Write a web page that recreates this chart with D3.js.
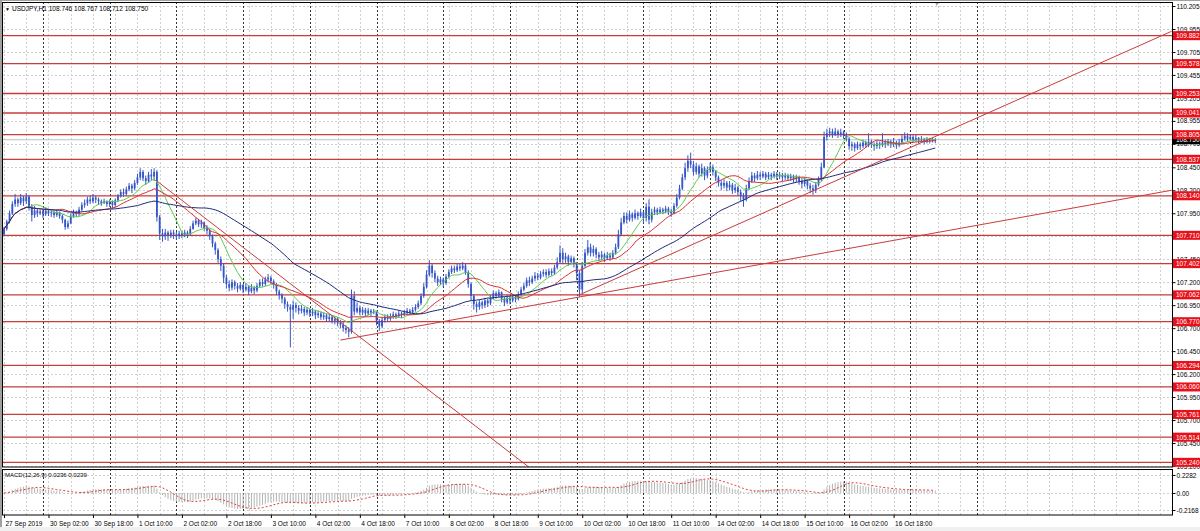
<!DOCTYPE html>
<html><head><meta charset="utf-8">
<script src="https://cdn.jsdelivr.net/npm/d3@7"></script>
<style>
html,body{margin:0;padding:0;background:#fff;overflow:hidden;}
svg{display:block;}
text{font-family:"Liberation Sans",Arial,sans-serif;}
</style></head><body>
<svg id="c" width="1200" height="531"></svg>
<script>
// ---------------- DATA ----------------
const symbol = "USDJPY,H1";
const headerOHLC = "108.746 108.767 108.712 108.750";
const firstOpen = 107.72;
const closes = [
107.78,107.86,107.95,108.05,108.10,108.06,108.12,108.08,108.13,108.02,107.93,107.98,107.95,107.97,
107.94,107.98,107.95,107.96,107.93,107.96,107.92,107.88,107.80,107.84,107.92,107.96,107.94,107.99,108.04,108.06,108.10,108.08,108.12,108.10,108.08,108.06,108.08,108.05,
108.07,108.04,108.09,108.14,108.18,108.16,108.21,108.25,108.22,108.28,108.34,108.40,108.33,108.30,108.37,108.35,108.40,107.91,107.73,107.70,107.74,107.71,107.74,107.72,
107.70,107.73,107.71,107.74,107.72,107.78,107.84,107.87,107.83,107.85,107.79,107.76,107.70,107.62,107.55,107.45,107.38,107.25,107.18,107.14,107.20,107.16,107.13,107.17,
107.12,107.15,107.10,107.14,107.11,107.16,107.20,107.18,107.23,107.25,107.21,107.17,107.10,107.06,107.02,106.96,106.93,106.90,106.95,106.92,106.89,106.91,106.87,106.90,
106.86,106.88,106.84,106.86,106.82,106.84,106.80,106.82,106.78,106.80,106.76,106.74,106.70,106.68,106.66,107.05,106.88,106.92,106.87,106.90,106.86,106.89,106.87,106.88,
106.78,106.72,106.79,106.82,106.80,106.83,106.85,106.83,106.86,106.84,106.87,106.89,106.87,106.90,106.93,106.97,107.05,107.15,107.28,107.38,107.30,107.24,107.20,107.23,
107.19,107.26,107.31,107.35,107.33,107.37,107.35,107.38,107.31,107.18,107.05,106.96,106.93,106.98,106.95,107.00,106.97,107.03,107.08,107.05,107.09,107.02,106.98,107.03,
107.00,107.04,107.02,107.07,107.12,107.16,107.22,107.20,107.24,107.27,107.25,107.29,107.31,107.28,107.32,107.30,107.36,107.42,107.52,107.45,107.48,107.42,107.46,107.40,
107.30,107.12,107.38,107.52,107.58,107.52,107.56,107.50,107.47,107.50,107.46,107.49,107.47,107.52,107.58,107.72,107.85,107.92,107.88,107.94,107.90,107.95,107.92,107.96,
107.90,108.02,107.88,107.96,107.99,107.96,107.99,107.97,108.00,107.97,107.95,108.03,108.12,108.22,108.34,108.44,108.52,108.48,108.40,108.46,108.38,108.44,108.36,108.42,
108.45,108.40,108.34,108.28,108.25,108.28,108.23,108.26,108.20,108.23,108.18,108.14,108.10,108.22,108.30,108.36,108.33,108.37,108.35,108.38,108.34,108.37,108.35,108.38,
108.35,108.37,108.34,108.36,108.33,108.35,108.32,108.34,108.30,108.27,108.30,108.25,108.22,108.20,108.26,108.32,108.45,108.78,108.82,108.84,108.80,108.84,108.81,108.83,
108.80,108.76,108.68,108.70,108.66,108.70,108.68,108.72,108.69,108.73,108.70,108.68,108.71,108.69,108.72,108.70,108.73,108.70,108.72,108.69,108.72,108.76,108.79,108.76,
108.78,108.75,108.77,108.74,108.76,108.73,108.75,108.74,108.746,108.750];
const highs = [
107.80,107.88,107.98,108.08,108.16,108.12,108.16,108.14,108.17,108.15,108.05,108.03,108.00,107.99,
107.99,108.01,108.00,107.99,107.98,107.99,107.97,107.94,107.89,107.87,107.95,107.99,107.98,108.02,108.07,108.10,108.13,108.14,108.16,108.14,108.12,108.10,108.11,108.09,
108.10,108.09,108.11,108.16,108.21,108.22,108.24,108.28,108.27,108.31,108.38,108.44,108.42,108.36,108.40,108.43,108.44,108.42,107.93,107.78,107.78,107.76,107.77,107.77,
107.75,107.76,107.76,107.77,107.76,107.81,107.87,107.90,107.89,107.88,107.86,107.82,107.78,107.72,107.64,107.57,107.48,107.40,107.28,107.22,107.23,107.22,107.19,107.20,
107.18,107.19,107.17,107.18,107.16,107.19,107.23,107.24,107.26,107.29,107.27,107.23,107.19,107.12,107.08,107.04,106.99,106.96,107.00,106.98,106.95,106.95,106.93,106.93,
106.91,106.92,106.90,106.89,106.88,106.87,106.86,106.85,106.84,106.83,106.82,106.79,106.77,106.73,106.71,107.12,107.10,106.98,106.94,106.93,106.92,106.92,106.91,106.91,
106.88,106.80,106.82,106.85,106.85,106.86,106.88,106.87,106.89,106.88,106.90,106.92,106.91,106.93,106.96,107.00,107.08,107.19,107.33,107.44,107.40,107.33,107.27,107.26,
107.25,107.29,107.34,107.38,107.38,107.40,107.40,107.42,107.40,107.33,107.20,107.07,106.99,107.01,107.00,107.03,107.02,107.06,107.11,107.10,107.12,107.10,107.04,107.06,
107.05,107.07,107.06,107.10,107.15,107.19,107.25,107.26,107.27,107.31,107.30,107.32,107.34,107.34,107.35,107.35,107.39,107.47,107.60,107.57,107.52,107.50,107.49,107.48,
107.42,107.33,107.42,107.56,107.66,107.62,107.60,107.58,107.53,107.54,107.52,107.53,107.52,107.55,107.62,107.77,107.90,107.96,107.96,107.98,107.96,107.99,107.97,108.00,
107.97,108.06,108.10,108.00,108.02,108.01,108.02,108.01,108.03,108.02,108.00,108.06,108.16,108.26,108.38,108.50,108.58,108.61,108.52,108.50,108.48,108.49,108.46,108.46,
108.50,108.48,108.42,108.36,108.31,108.32,108.30,108.30,108.28,108.27,108.25,108.21,108.17,108.26,108.34,108.40,108.39,108.41,108.40,108.41,108.40,108.40,108.39,108.41,
108.40,108.40,108.39,108.39,108.38,108.38,108.37,108.37,108.36,108.33,108.34,108.32,108.28,108.26,108.29,108.35,108.50,108.84,108.87,108.88,108.87,108.88,108.86,108.87,
108.85,108.83,108.78,108.73,108.72,108.73,108.72,108.75,108.74,108.82,108.75,108.72,108.74,108.73,108.82,108.75,108.76,108.75,108.77,108.74,108.76,108.80,108.83,108.82,
108.81,108.80,108.80,108.78,108.79,108.77,108.78,108.77,108.77,108.767];
const lows = [
107.70,107.76,107.84,107.93,108.02,108.02,108.04,108.03,108.05,107.98,107.86,107.90,107.91,107.93,
107.90,107.92,107.92,107.91,107.90,107.91,107.89,107.84,107.77,107.78,107.83,107.90,107.91,107.92,107.97,108.01,108.03,108.05,108.06,108.06,108.04,108.03,108.05,108.02,
108.02,108.00,108.02,108.07,108.12,108.13,108.14,108.19,108.17,108.20,108.26,108.31,108.30,108.26,108.28,108.31,108.30,107.86,107.66,107.64,107.66,107.65,107.68,107.67,
107.66,107.67,107.68,107.69,107.68,107.71,107.77,107.82,107.80,107.79,107.76,107.72,107.66,107.58,107.50,107.41,107.32,107.19,107.13,107.10,107.11,107.12,107.09,107.11,
107.08,107.10,107.06,107.08,107.07,107.09,107.14,107.15,107.16,107.20,107.18,107.13,107.06,107.01,106.97,106.91,106.88,106.49,106.80,106.87,106.85,106.86,106.83,106.84,
106.82,106.83,106.80,106.81,106.79,106.79,106.77,106.77,106.75,106.74,106.72,106.70,106.66,106.64,106.60,106.64,106.84,106.86,106.84,106.84,106.83,106.84,106.83,106.85,
106.73,106.67,106.70,106.76,106.77,106.78,106.80,106.80,106.81,106.81,106.83,106.84,106.84,106.85,106.88,106.91,106.95,107.03,107.13,107.26,107.25,107.20,107.16,107.17,
107.15,107.17,107.24,107.29,107.30,107.31,107.32,107.33,107.28,107.14,107.00,106.90,106.87,106.90,106.91,106.92,106.93,106.95,107.01,107.02,107.03,106.98,106.94,106.96,
106.96,106.98,106.98,107.00,107.05,107.10,107.14,107.16,107.18,107.21,107.22,107.23,107.26,107.25,107.26,107.27,107.28,107.34,107.40,107.40,107.41,107.38,107.39,107.36,
107.22,107.04,107.08,107.36,107.49,107.48,107.48,107.46,107.43,107.44,107.42,107.44,107.43,107.45,107.50,107.56,107.70,107.83,107.84,107.86,107.86,107.88,107.88,107.90,
107.84,107.86,107.83,107.85,107.93,107.93,107.94,107.94,107.95,107.93,107.91,107.94,108.01,108.10,108.20,108.31,108.40,108.44,108.36,108.37,108.34,108.35,108.31,108.33,
108.39,108.36,108.30,108.24,108.20,108.22,108.19,108.20,108.16,108.17,108.14,108.08,108.02,108.08,108.20,108.28,108.29,108.31,108.31,108.33,108.31,108.32,108.31,108.33,
108.31,108.32,108.30,108.31,108.30,108.30,108.28,108.29,108.26,108.22,108.24,108.21,108.17,108.15,108.17,108.24,108.30,108.44,108.74,108.78,108.77,108.79,108.77,108.78,
108.76,108.73,108.64,108.63,108.62,108.64,108.64,108.66,108.66,108.67,108.66,108.63,108.65,108.65,108.67,108.66,108.68,108.66,108.67,108.65,108.67,108.70,108.74,108.73,
108.74,108.72,108.73,108.71,108.72,108.70,108.71,108.71,108.72,108.712];

const timeLabels = ["27 Sep 2019","30 Sep 02:00","30 Sep 18:00","1 Oct 10:00","2 Oct 02:00","2 Oct 18:00","3 Oct 10:00","4 Oct 02:00","4 Oct 18:00","7 Oct 10:00","8 Oct 02:00","8 Oct 18:00","9 Oct 10:00","10 Oct 02:00","10 Oct 18:00","11 Oct 10:00","14 Oct 02:00","14 Oct 18:00","15 Oct 10:00","16 Oct 02:00","16 Oct 18:00"];
const timeLabelBars = [0,16,32,48,64,80,96,112,128,144,160,176,192,208,224,240,256,272,288,304,320];
const daySeparatorBars = [14,38,62,86,110,134,158,182,206,230,254,278,302,326,350];
const priceTicks = ["110.205","109.955","109.705","109.455","109.205","108.955","108.705","108.450","108.200","107.950","107.700","107.450","107.200","106.950","106.700","106.450","106.200","105.950","105.700","105.450","105.200"];
const levels = [109.882,109.578,109.253,109.041,108.805,108.537,108.140,107.710,107.402,107.062,106.770,106.294,106.060,105.761,105.514,105.240];
const lastPrice = 108.750;
// trend lines: [startBar, startPrice, endBar, endPrice]
const trendDown = [55, 108.30, 190, 105.16];
const trendUpLow = [121, 106.57, 420, 108.20];
const trendUpHigh = [206.8, 107.06, 420, 109.93];
const macdTicks = [0.2282, 0.00, -0.2168];
const macdTitle = "MACD(12,26,9) 0.0236 0.0239";
const maPeriods = [10, 20, 50];

// ---------------- LAYOUT ----------------
const svg = d3.select("#c");
const L = 3, R = 1172, T = 2, MB = 467, MT = 469, BB = 515;
const FS = "6.5px";
const x = d3.scaleLinear().domain([0, 420]).range([4, 1171.6]);
const y = d3.scaleLinear().domain([105.2, 110.205]).range([466, 6]);
const ym = d3.scaleLinear().domain([-0.2168, 0.2282]).range([510, 475]);

svg.append("rect").attr("width",1200).attr("height",531).attr("fill","#fff");
svg.append("rect").attr("x",0).attr("y",527).attr("width",1200).attr("height",4).attr("fill","#f0f0f0");
svg.append("rect").attr("x",0).attr("y",0).attr("width",2).attr("height",527).attr("fill","#a0a0a0");
svg.append("rect").attr("x",0).attr("y",0).attr("width",1200).attr("height",1).attr("fill","#a0a0a0");

const defs = svg.append("defs");
defs.append("clipPath").attr("id","cm").append("rect").attr("x",L).attr("y",T).attr("width",R-L).attr("height",MB-T);
defs.append("clipPath").attr("id","cd").append("rect").attr("x",L).attr("y",MT).attr("width",R-L).attr("height",BB-MT);

const gMain = svg.append("g").attr("clip-path","url(#cm)");
const gMacd = svg.append("g").attr("clip-path","url(#cd)");

// vertical grid (every 8 bars)
const gridBars = d3.range(0, 421, 8);
[[gMain,T,MB],[gMacd,MT,BB]].forEach(([g,a,b])=>{
  g.selectAll(null).data(gridBars).enter().append("line")
   .attr("x1",d=>Math.round(x(d))+0.5).attr("x2",d=>Math.round(x(d))+0.5).attr("y1",a).attr("y2",b)
   .attr("stroke","#d0d0d0").attr("stroke-dasharray","2,2").attr("stroke-width",1);
});
// horizontal grid
gMain.selectAll(null).data(priceTicks).enter().append("line")
  .attr("x1",L).attr("x2",R).attr("y1",d=>Math.round(y(+d))+0.5).attr("y2",d=>Math.round(y(+d))+0.5)
  .attr("stroke","#d0d0d0").attr("stroke-dasharray","2,2");
gMacd.selectAll(null).data(macdTicks).enter().append("line")
  .attr("x1",L).attr("x2",R).attr("y1",d=>Math.round(ym(d))+0.5).attr("y2",d=>Math.round(ym(d))+0.5)
  .attr("stroke","#d0d0d0").attr("stroke-dasharray","2,2");
// day separators
[[gMain,T,MB],[gMacd,MT,BB]].forEach(([g,a,b])=>{
  g.selectAll(null).data(daySeparatorBars).enter().append("line")
   .attr("x1",d=>Math.round(x(d))+0.5).attr("x2",d=>Math.round(x(d))+0.5).attr("y1",a).attr("y2",b)
   .attr("stroke","#333").attr("stroke-dasharray","2,2").attr("stroke-width",1);
});

// horizontal levels
gMain.selectAll(null).data(levels).enter().append("line")
  .attr("x1",L).attr("x2",R).attr("y1",d=>y(d)).attr("y2",d=>y(d))
  .attr("stroke","#c83c3c").attr("stroke-width",1.3);
// last price line
gMain.append("line").attr("x1",L).attr("x2",R).attr("y1",y(lastPrice)).attr("y2",y(lastPrice))
  .attr("stroke","#c0c0c0").attr("stroke-width",1);

// candles
const bars = closes.map((c,i)=>{
  const o = i===0 ? firstOpen : closes[i-1];
  return {i, o, c, h: Math.max(highs[i], o, c), l: Math.min(lows[i], o, c)};
});
const blue = "#3556c8";
gMain.selectAll(null).data(bars).enter().append("line")
  .attr("x1",d=>x(d.i)).attr("x2",d=>x(d.i)).attr("y1",d=>y(d.h)).attr("y2",d=>y(d.l))
  .attr("stroke",blue).attr("stroke-width",1);
gMain.selectAll(null).data(bars).enter().append("rect")
  .attr("x",d=>x(d.i)-0.9).attr("width",1.8)
  .attr("y",d=>y(Math.max(d.o,d.c))).attr("height",d=>Math.max(0.8, Math.abs(y(d.o)-y(d.c))))
  .attr("fill",blue);

// moving averages
function sma(arr, p){ return arr.map((_,i)=>{ const s=Math.max(0,i-p+1); return d3.mean(arr.slice(s,i+1)); }); }
function ema(arr, p){ const k=2/(p+1); let e=arr[0]; return arr.map(v=>(e = v*k + e*(1-k))); }
const maColors = ["#5ccc4c","#d83030","#1c2a7a"];
maPeriods.forEach((p,k)=>{
  const m = sma(closes,p);
  gMain.append("path").datum(m).attr("fill","none").attr("stroke",maColors[k]).attr("stroke-width",1)
    .attr("d", d3.line().x((d,i)=>x(i)).y(d=>y(d)));
});

// trend lines
[trendDown, trendUpLow, trendUpHigh].forEach(t=>{
  gMain.append("line").attr("x1",x(t[0])).attr("y1",y(t[1])).attr("x2",x(t[2])).attr("y2",y(t[3]))
    .attr("stroke","#c83c3c").attr("stroke-width",1);
});

// MACD
const e12 = ema(closes,12), e26 = ema(closes,26);
const macd = e12.map((v,i)=>v-e26[i]);
const signal = sma(macd,9);
gMacd.selectAll(null).data(macd).enter().append("line")
  .attr("x1",(d,i)=>x(i)).attr("x2",(d,i)=>x(i)).attr("y1",ym(0)).attr("y2",d=>ym(d))
  .attr("stroke","#b4b4b4").attr("stroke-width",1);
gMacd.append("path").datum(signal).attr("fill","none").attr("stroke","#e03c3c").attr("stroke-width",1)
  .attr("stroke-dasharray","2,2").attr("d", d3.line().x((d,i)=>x(i)).y(d=>ym(d)));

// frames
svg.append("rect").attr("x",L-0.5).attr("y",T+0.5).attr("width",R-L+1).attr("height",MB-T-0.5)
  .attr("fill","none").attr("stroke","#000");
svg.append("rect").attr("x",L-0.5).attr("y",MT+0.5).attr("width",R-L+1).attr("height",BB-MT-0.5)
  .attr("fill","none").attr("stroke","#000");

// shift marker
svg.append("path").attr("d",`M${x(335)},3 l3,0 l-1.5,3 z`).attr("fill","#a0a0a0");

// right price axis
const ax = d3.axisRight(y).tickValues(priceTicks.map(Number)).tickFormat((d,i)=>priceTicks[i]).tickSize(3).tickSizeOuter(0);
const gAx = svg.append("g").attr("transform",`translate(${R+0.5},0)`).call(ax);
gAx.select(".domain").remove();
gAx.selectAll("text").attr("x",4).attr("font-size",FS).attr("fill","#000").attr("font-family","Liberation Sans, Arial, sans-serif");
gAx.selectAll("line").attr("stroke","#000");

// current price box
svg.append("rect").attr("x",R+1).attr("y",y(lastPrice)-4.5).attr("width",27).attr("height",9).attr("fill","#000");
svg.append("text").attr("x",R+4).attr("y",y(lastPrice)+2.4).attr("font-size",FS).attr("fill","#fff").text(lastPrice.toFixed(3));
// level boxes
const lb = svg.append("g").selectAll(null).data(levels).enter().append("g");
lb.append("rect").attr("x",R+1).attr("y",d=>y(d)-4.5).attr("width",27).attr("height",9).attr("fill","#e8101a");
lb.append("text").attr("x",R+4).attr("y",d=>y(d)+2.4).attr("font-size",FS).attr("fill","#fff").text(d=>d.toFixed(3));

// MACD axis
const axm = d3.axisRight(ym).tickValues(macdTicks).tickFormat((d)=>d===0?"0.00":d.toFixed(4)).tickSize(3).tickSizeOuter(0);
const gAxm = svg.append("g").attr("transform",`translate(${R+0.5},0)`).call(axm);
gAxm.select(".domain").remove();
gAxm.selectAll("text").attr("x",4).attr("font-size",FS).attr("fill","#000").attr("font-family","Liberation Sans, Arial, sans-serif");
gAxm.selectAll("line").attr("stroke","#000");

// time axis
const axb = d3.axisBottom(x).tickValues(timeLabelBars).tickFormat((d,i)=>timeLabels[i]).tickSize(3).tickSizeOuter(0);
const gAxb = svg.append("g").attr("transform",`translate(0,${BB})`).call(axb);
gAxb.select(".domain").remove();
gAxb.selectAll("text").attr("text-anchor","start").attr("x",1).attr("y",6).attr("font-size",FS).attr("fill","#000").attr("font-family","Liberation Sans, Arial, sans-serif");
gAxb.selectAll("line").attr("stroke","#000");

// titles
svg.append("text").attr("x",5).attr("y",10.5).attr("font-size","5px").text("▼");
svg.append("text").attr("x",12).attr("y",11).attr("font-size",FS).text(symbol + "  " + headerOHLC);
svg.append("text").attr("x",5).attr("y",477).attr("font-size","6px").text(macdTitle);
</script>
</body></html>
